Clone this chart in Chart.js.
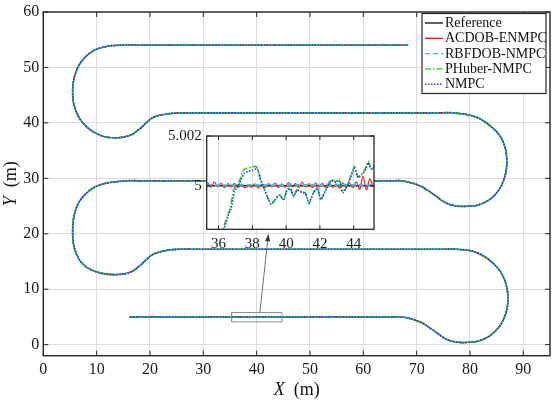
<!DOCTYPE html>
<html>
<head>
<meta charset="utf-8">
<script src="https://cdn.jsdelivr.net/npm/chart.js@4.4.1/dist/chart.umd.min.js"></script>
<style>
  html, body { margin: 0; padding: 0; background: #fff; }
  #wrap { position: relative; width: 556px; height: 401px; }
  #wrap canvas { position: absolute; left: 0; top: 0; }
  #insetChart { pointer-events: none; }
</style>
</head>
<body>
<div id="wrap">
  <canvas id="mainChart" width="556" height="401"></canvas>
  <canvas id="insetChart" width="556" height="401"></canvas>
</div>
<script>
// series names and styles
const seriesNames = ['Reference', 'ACDOB-ENMPC', 'RBFDOB-NMPC', 'PHuber-NMPC', 'NMPC'];
const seriesColors = ['#1a1a1a', '#ff1e1e', '#2cc4ec', '#18d018', '#2b3cf2'];
const seriesDash = [[], [], [5, 3], [6, 2, 1.5, 2], [1.5, 1.5]];

// main axes ticks
const xTicks = [0, 10, 20, 30, 40, 50, 60, 70, 80, 90];
const yTicks = [0, 10, 20, 30, 40, 50, 60];

// tracked path (all controllers overlap at this scale)
const pathX = [16.2, 40, 63, 65, 67.5, 70.6, 73.1, 75.6, 77.5, 79.5, 81.9, 84.4, 86.4, 87.1, 86.4, 84.4, 81.25, 77.5, 75, 50,
  28, 25.6, 23.1, 20.6, 19.4, 18.1, 16.25, 13.44, 10.6, 7.8, 6.1, 5.5, 6.1, 7.8, 10.6, 15.6, 18, 40, 63, 65,
  67.5, 70.6, 73.1, 75.6, 77.5, 79.5, 81.9, 84.4, 86.2, 86.9, 86.2, 84.4, 81.25, 76.9, 74, 50, 29, 26.5, 23.1, 20.6,
  19.4, 18.1, 16.25, 13.44, 10.6, 7.8, 6.1, 5.5, 6.1, 7.8, 10.6, 15, 18, 40, 68.4];
const pathY = [5.0, 5.0, 5.0, 5.0, 4.95, 4.1, 2.6, 0.96, 0.45, 0.4, 0.75, 2.1, 4.8, 8.3, 11.9, 14.6, 16.6, 17.2, 17.2, 17.2,
  17.2, 17.2, 17.0, 16.3, 15.4, 14.24, 13.04, 12.63, 12.95, 14.2, 16.6, 20.2, 24.4, 27.05, 28.8, 29.55, 29.55, 29.55, 29.55, 29.55,
  29.5, 28.65, 27.15, 25.5, 25.0, 24.95, 25.3, 26.75, 29.4, 33.0, 36.6, 38.95, 41.0, 41.8, 41.8, 41.8, 41.8, 41.8, 41.6, 41.0,
  40.1, 38.95, 37.75, 37.3, 37.8, 39.6, 42.2, 45.5, 49.1, 51.8, 53.5, 54.05, 54.05, 54.05, 54.05];

// zoomed region marker and arrow
const zoomBoxX = [35.3, 44.75, 44.75, 35.3, 35.3];
const zoomBoxY = [4.1, 4.1, 5.8, 5.8, 4.1];
const arrowX = [40.6, 42.2];
const arrowY = [5.8, 19.9];

// inset (zoom of y = 5 segment)
const insetXTicks = [36, 38, 40, 42, 44];
const insetYTicks = [5, 5.002];
const insetRefX = [35.3, 45.2];
const insetRefY = [5, 5];
const insetAcdobX = [35.35, 35.55, 35.75, 35.95, 36.15, 36.35, 36.55, 36.75, 36.95, 37.15, 37.35, 37.55, 37.75, 37.95, 38.15,
  38.35, 38.55, 38.75, 38.95, 39.15, 39.35, 39.55, 39.75, 39.95, 40.15, 40.35, 40.55, 40.75, 40.95, 41.15, 41.35, 41.55,
  41.75, 41.95, 42.15, 42.35, 42.55, 42.75, 42.95, 43.15, 43.35, 43.55, 43.75, 43.95, 44.15, 44.35, 44.55, 44.75, 44.95, 45.15];
const insetAcdobY = [5.00014, 4.99994, 5.00016, 4.99996, 5.00011, 4.99992, 5.00009, 4.99995, 5.0001, 4.99993, 5.00006,
  4.99991, 5.00005, 4.99994, 5.00008, 4.9999, 5.00006, 4.99992, 5.00009, 4.99995, 5.00011, 4.99993, 5.00008, 4.99994,
  5.00013, 4.99996, 5.00009, 4.99992, 5.00015, 4.99995, 5.00009, 4.99992, 5.00012, 4.99994, 5.0001, 4.99991, 5.00014,
  4.99993, 5.00008, 4.9999, 5.00013, 4.99994, 5.00011, 4.99992, 5.00016, 4.99986, 5.00038, 4.99984, 5.00028, 4.99994];
const insetRbfX = [35.3, 36.3, 37.3, 38.3, 39.3, 40.3, 41.3, 42.3, 43.3, 44.3, 45.2];
const insetRbfY = [5.00003, 5.00002, 5.00004, 5.00003, 5.00002, 5.00004, 5.00003, 5.00002, 5.00004, 5.00003, 5.00004];
const insetHuberX = [36.1, 36.3, 36.5, 36.7, 36.9, 37.2, 37.45, 37.7, 37.95, 38.2, 38.3, 38.45, 38.6, 38.85, 39.1, 39.35,
  39.6, 39.85, 40.05, 40.25, 40.45, 40.65, 40.95, 41.15, 41.35, 41.6, 41.85, 42.05, 42.25, 42.45, 42.65, 42.95, 43.15,
  43.35, 43.6, 43.85, 44.05, 44.25, 44.5, 44.7, 44.85, 45.0, 45.1, 45.2];
const insetHuberY = [4.9975, 4.9983, 4.99875, 4.99912, 4.99985, 5.00012, 5.0006, 5.00072, 5.00074, 5.00078, 5.0007, 5.0003,
  5.00002, 4.99962, 4.99925, 4.99942, 4.99965, 4.99942, 4.99985, 4.9999, 4.99956, 4.99985, 4.99976, 4.9997, 4.99928,
  4.9997, 4.99992, 4.99942, 4.9997, 4.99998, 5.00025, 5.00017, 5.00027, 4.99976, 4.99998, 5.00045, 5.00078, 5.00036,
  5.0005, 5.0007, 5.001, 5.00076, 5.0007, 5.00082];
const insetNmpcX = [36.15, 36.35, 36.55, 36.75, 36.95, 37.25, 37.5, 37.75, 38.0, 38.25, 38.35, 38.5, 38.65, 38.9, 39.1, 39.35,
  39.6, 39.85, 40.05, 40.25, 40.45, 40.65, 40.95, 41.15, 41.35, 41.6, 41.85, 42.05, 42.25, 42.45, 42.65, 42.95, 43.15,
  43.35, 43.6, 43.85, 44.05, 44.25, 44.5, 44.7, 44.85, 45.0, 45.1, 45.2];
const insetNmpcY = [4.9975, 4.9983, 4.99875, 4.9991, 4.99975, 5.0001, 5.00048, 5.00058, 5.00062, 5.00068, 5.0006, 5.00025,
  4.99998, 4.99955, 4.99928, 4.99945, 4.99962, 4.99945, 4.9998, 4.99988, 4.99958, 4.99982, 4.99973, 4.99968, 4.99932,
  4.99968, 4.9999, 4.99945, 4.99968, 4.99995, 5.0002, 5.00014, 5.00022, 4.99972, 4.99995, 5.0004, 5.0007, 5.00032,
  5.00045, 5.00064, 5.00092, 5.0007, 5.00066, 5.00078];

const serif = 'Liberation Serif, Times New Roman, serif';
const gridColor = '#dcdcdc';
const frameColor = '#262626';

function pts(xs, ys) {
    return xs.map((x, i) => ({ x: x, y: ys[i] }));
}

// order: later series are drawn on top (lowest order = top in Chart.js)
function lineSet(idx, data, width, tension) {
    return {
        label: seriesNames[idx],
        data: data,
        showLine: true,
        pointRadius: 0,
        borderColor: seriesColors[idx],
        borderDash: seriesDash[idx],
        borderWidth: width,
        tension: tension,
        fill: false,
        order: 10 - idx
    };
}

// box around the plot area + inward ticks on all four sides
const framePlugin = {
    id: 'frame',
    beforeDraw(chart, args, opts) {
        const ctx = chart.ctx;
        const a = chart.chartArea;
        ctx.save();
        ctx.fillStyle = '#fff';
        if (opts.fillAll) {
            ctx.fillRect(0, 0, chart.width, chart.height);
        } else {
            ctx.fillRect(a.left, a.top, a.right - a.left, a.bottom - a.top);
        }
        ctx.restore();
    },
    afterDatasetsDraw(chart, args, opts) {
        const ctx = chart.ctx;
        const a = chart.chartArea;
        const sx = chart.scales.x, sy = chart.scales.y;
        const t = opts.tick;
        ctx.save();
        ctx.strokeStyle = frameColor;
        ctx.lineWidth = 1;
        ctx.beginPath();
        sx.ticks.forEach(tk => {
            const p = sx.getPixelForValue(tk.value);
            ctx.moveTo(p, a.bottom); ctx.lineTo(p, a.bottom - t);
            ctx.moveTo(p, a.top); ctx.lineTo(p, a.top + t);
        });
        sy.ticks.forEach(tk => {
            const p = sy.getPixelForValue(tk.value);
            ctx.moveTo(a.left, p); ctx.lineTo(a.left + t, p);
            ctx.moveTo(a.right, p); ctx.lineTo(a.right - t, p);
        });
        ctx.stroke();
        ctx.lineWidth = opts.width;
        ctx.strokeRect(a.left, a.top, a.right - a.left, a.bottom - a.top);
        ctx.restore();
    }
};

// arrow head, legend and axis titles of the main plot
const decorPlugin = {
    id: 'decor',
    afterDatasetsDraw(chart) {
        const meta = chart.getDatasetMeta(6);
        const p0 = meta.data[0], p1 = meta.data[1];
        const ang = Math.atan2(p1.y - p0.y, p1.x - p0.x);
        const ctx = chart.ctx;
        ctx.save();
        ctx.fillStyle = '#333';
        ctx.translate(p1.x, p1.y);
        ctx.rotate(ang);
        ctx.beginPath();
        ctx.moveTo(0, 0);
        ctx.lineTo(-7, -2.6);
        ctx.lineTo(-7, 2.6);
        ctx.closePath();
        ctx.fill();
        ctx.restore();
    },
    afterDraw(chart) {
        const ctx = chart.ctx;
        const a = chart.chartArea;
        ctx.save();
        // legend
        const lx = 422, ly = 13.5, lw = 124, lh = 80;
        ctx.fillStyle = '#fff';
        ctx.fillRect(lx, ly, lw, lh);
        ctx.strokeStyle = frameColor;
        ctx.lineWidth = 1.2;
        ctx.strokeRect(lx, ly, lw, lh);
        ctx.font = '14px ' + serif;
        ctx.textBaseline = 'middle';
        seriesNames.forEach((name, i) => {
            const y = ly + 9.5 + i * 15.3;
            ctx.strokeStyle = seriesColors[i];
            ctx.setLineDash(seriesDash[i]);
            ctx.lineWidth = 1.4;
            ctx.beginPath();
            ctx.moveTo(lx + 3, y);
            ctx.lineTo(lx + 21, y);
            ctx.stroke();
            ctx.setLineDash([]);
            ctx.fillStyle = '#111';
            ctx.textAlign = 'left';
            ctx.fillText(name, lx + 23, y + 0.5);
        });
        // x title
        ctx.fillStyle = '#111';
        ctx.textBaseline = 'middle';
        const fI = 'italic 18px ' + serif, fN = '18px ' + serif;
        ctx.font = fI;
        const wX = ctx.measureText('X').width;
        ctx.font = fN;
        const wM = ctx.measureText('  (m)').width;
        let x0 = (a.left + a.right) / 2 - (wX + wM) / 2;
        ctx.textAlign = 'left';
        ctx.font = fI;
        ctx.fillText('X', x0, 390);
        ctx.font = fN;
        ctx.fillText('  (m)', x0 + wX, 390);
        // y title
        ctx.translate(11, (a.top + a.bottom) / 2);
        ctx.rotate(-Math.PI / 2);
        ctx.font = fI;
        const wY = ctx.measureText('Y').width;
        x0 = -(wY + wM) / 2;
        ctx.fillText('Y', x0, 0);
        ctx.font = fN;
        ctx.fillText('  (m)', x0 + wY, 0);
        ctx.restore();
    }
};

const mainWidths = [1.2, 1.2, 1.6, 1.6, 1.6];
const mainDatasets = seriesNames.map((n, i) => lineSet(i, pts(pathX, pathY), mainWidths[i], 0.4));
mainDatasets.push({
    label: 'zoom box', data: pts(zoomBoxX, zoomBoxY), showLine: true, pointRadius: 0,
    borderColor: '#8c8c8c', borderWidth: 1, tension: 0, order: 1
});
mainDatasets.push({
    label: 'arrow', data: pts(arrowX, arrowY), showLine: true, pointRadius: 0,
    borderColor: '#707070', borderWidth: 1, tension: 0, order: 0
});

new Chart(document.getElementById('mainChart'), {
    type: 'scatter',
    data: { datasets: mainDatasets },
    options: {
        responsive: false,
        animation: false,
        events: [],
        layout: { padding: { left: 0, right: 6, top: 8.7, bottom: 0 } },
        scales: {
            x: {
                type: 'linear', min: 0, max: 95,
                afterBuildTicks: s => { s.ticks = xTicks.map(v => ({ value: v })); },
                afterFit: s => { s.height = 45.3; },
                grid: { color: gridColor, drawTicks: false },
                border: { display: false },
                ticks: { padding: 6, color: '#1a1a1a', font: { family: serif, size: 16, lineHeight: 1 }, maxRotation: 0 }
            },
            y: {
                type: 'linear', min: -2, max: 60,
                afterBuildTicks: s => { s.ticks = yTicks.map(v => ({ value: v })); },
                afterFit: s => { s.width = 43.3; },
                grid: { color: gridColor, drawTicks: false },
                border: { display: false },
                ticks: { padding: 4, color: '#1a1a1a', font: { family: serif, size: 16, lineHeight: 1 } }
            }
        },
        plugins: {
            legend: { display: false },
            tooltip: { enabled: false },
            frame: { tick: 5, width: 1.4, fillAll: true }
        }
    },
    plugins: [framePlugin, decorPlugin]
});

const insetDatasets = [
    lineSet(0, pts(insetRefX, insetRefY), 1.4, 0),
    lineSet(1, pts(insetAcdobX, insetAcdobY), 1.2, 0.3),
    lineSet(2, pts(insetRbfX, insetRbfY), 2, 0),
    lineSet(3, pts(insetHuberX, insetHuberY), 1.5, 0.2),
    lineSet(4, pts(insetNmpcX, insetNmpcY), 1.5, 0.2)
];

new Chart(document.getElementById('insetChart'), {
    type: 'scatter',
    data: { datasets: insetDatasets },
    options: {
        responsive: false,
        animation: false,
        events: [],
        layout: { padding: { left: 150, right: 182, top: 136, bottom: 0 } },
        scales: {
            x: {
                type: 'linear', min: 35.3, max: 45.2,
                afterBuildTicks: s => { s.ticks = insetXTicks.map(v => ({ value: v })); },
                afterFit: s => { s.height = 171.7; },
                grid: { color: gridColor, drawTicks: false },
                border: { display: false },
                ticks: { padding: 7, color: '#1a1a1a', font: { family: serif, size: 15, lineHeight: 1 }, maxRotation: 0 }
            },
            y: {
                type: 'linear', min: 4.99825, max: 5.002,
                afterBuildTicks: s => { s.ticks = insetYTicks.map(v => ({ value: v })); },
                afterFit: s => { s.width = 56.7; },
                grid: { color: gridColor, drawTicks: false },
                border: { display: false },
                ticks: {
                    padding: 5, color: '#1a1a1a', font: { family: serif, size: 15, lineHeight: 1 },
                    callback: v => String(Math.round(v * 1000) / 1000)
                }
            }
        },
        plugins: {
            legend: { display: false },
            tooltip: { enabled: false },
            frame: { tick: 4, width: 1.3, fillAll: false }
        }
    },
    plugins: [framePlugin]
});
</script>
</body>
</html>
